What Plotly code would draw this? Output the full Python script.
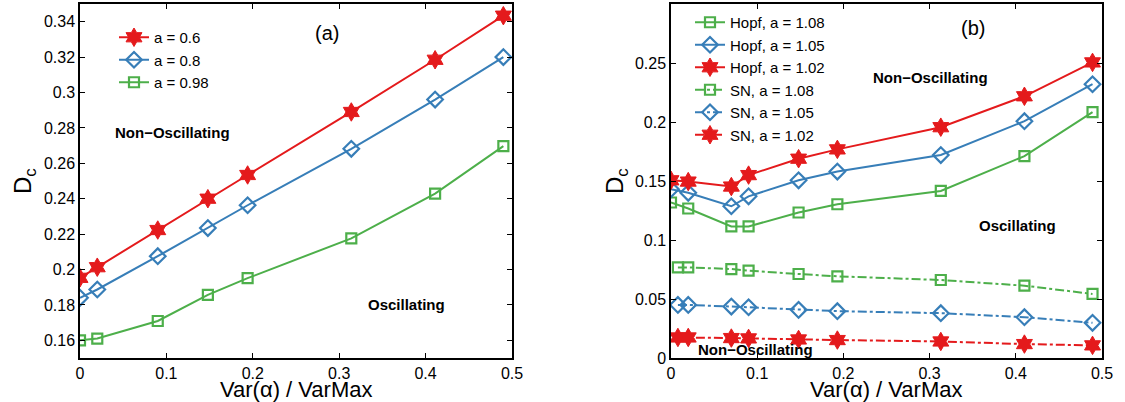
import plotly.graph_objects as go

# ---------------- data ----------------
x_a = [0.0, 0.02, 0.09, 0.148, 0.194, 0.314, 0.411, 0.49]
a06 = [0.1953, 0.2013, 0.2223, 0.2400, 0.2534, 0.2890, 0.3185, 0.3434]
a08 = [0.1840, 0.1887, 0.2075, 0.2234, 0.2363, 0.2682, 0.2960, 0.3200]
a098 = [0.1600, 0.1610, 0.1709, 0.1857, 0.1951, 0.2176, 0.2429, 0.2697]

x_hopf = [0.0, 0.02, 0.07, 0.09, 0.148, 0.193, 0.313, 0.41, 0.489]
x_sn = [0.008, 0.02, 0.07, 0.09, 0.148, 0.193, 0.313, 0.41, 0.489]
hopf108 = [0.1318, 0.1267, 0.1115, 0.1115, 0.1233, 0.1303, 0.1416, 0.1711, 0.2083]
hopf105 = [0.1430, 0.1400, 0.1286, 0.1370, 0.1506, 0.1580, 0.1720, 0.2007, 0.2320]
hopf102 = [0.1506, 0.1495, 0.1453, 0.1550, 0.1689, 0.1768, 0.1956, 0.2218, 0.2505]
sn108 = [0.0768, 0.0768, 0.0754, 0.0740, 0.0712, 0.0692, 0.0661, 0.0613, 0.0543]
sn105 = [0.0450, 0.0450, 0.0436, 0.0430, 0.0408, 0.0397, 0.0380, 0.0346, 0.0298]
sn102 = [0.0174, 0.0174, 0.0169, 0.0166, 0.0157, 0.0152, 0.0140, 0.0118, 0.0107]

xticks = [0, 0.1, 0.2, 0.3, 0.4, 0.5]
xtick_text = ["0", "0.1", "0.2", "0.3", "0.4", "0.5"]
yticks_a = [0.16, 0.18, 0.20, 0.22, 0.24, 0.26, 0.28, 0.30, 0.32, 0.34]
ytick_text_a = ["0.16", "0.18", "0.2", "0.22", "0.24", "0.26", "0.28", "0.3", "0.32", "0.34"]
yticks_b = [0, 0.05, 0.1, 0.15, 0.2, 0.25]
ytick_text_b = ["0", "0.05", "0.1", "0.15", "0.2", "0.25"]

RED = "#e41a1c"
BLUE = "#377eb8"
GREEN = "#4daf4a"
FONT = "Liberation Sans, Arial, Helvetica, sans-serif"
W, H = 1125, 402

fig = go.Figure()

def add(x, y, name, color, symbol, size, dash, xa, ya, legend):
    filled = symbol == "hexagram"
    fig.add_trace(go.Scatter(
        x=x, y=y, name=name, mode="lines+markers",
        line=dict(color=color, width=2, dash=dash),
        marker=dict(symbol=symbol, size=size, color=color,
                    line=dict(color=color, width=1 if filled else 2.2)),
        xaxis=xa, yaxis=ya, legend=legend))

# panel (a)
add(x_a, a06, "a = 0.6", RED, "hexagram", 14, "solid", "x", "y", "legend")
add(x_a, a08, "a = 0.8", BLUE, "diamond-open", 12, "solid", "x", "y", "legend")
add(x_a, a098, "a = 0.98", GREEN, "square-open", 10, "solid", "x", "y", "legend")

# panel (b)
add(x_hopf, hopf108, "Hopf, a = 1.08", GREEN, "square-open", 10, "solid", "x2", "y2", "legend2")
add(x_hopf, hopf105, "Hopf, a = 1.05", BLUE, "diamond-open", 12, "solid", "x2", "y2", "legend2")
add(x_hopf, hopf102, "Hopf, a = 1.02", RED, "hexagram", 14, "solid", "x2", "y2", "legend2")
add(x_sn, sn108, "SN, a = 1.08", GREEN, "square-open", 10, "dashdot", "x2", "y2", "legend2")
add(x_sn, sn105, "SN, a = 1.05", BLUE, "diamond-open", 12, "dashdot", "x2", "y2", "legend2")
add(x_sn, sn102, "SN, a = 1.02", RED, "hexagram", 14, "dashdot", "x2", "y2", "legend2")

axis_common = dict(showline=True, linecolor="black", linewidth=1.5, mirror="allticks",
                   ticks="inside", ticklen=5, tickwidth=1, tickcolor="black",
                   showgrid=False, zeroline=False, automargin=False,
                   tickfont=dict(family=FONT, size=16, color="black"))

dom_y = [44 / H, 398 / H]
fig.update_layout(
    width=W, height=H,
    margin=dict(l=0, r=0, t=0, b=0),
    paper_bgcolor="white", plot_bgcolor="white",
    font=dict(family=FONT, color="black"),
    xaxis=dict(domain=[80 / W, 512 / W], range=[0, 0.5], tickvals=xticks, ticktext=xtick_text,
               anchor="y", **axis_common),
    yaxis=dict(domain=dom_y, range=[0.15, 0.35], tickvals=yticks_a, ticktext=ytick_text_a,
               anchor="x", **axis_common),
    xaxis2=dict(domain=[671 / W, 1102 / W], range=[0, 0.5], tickvals=xticks, ticktext=xtick_text,
                anchor="y2", **axis_common),
    yaxis2=dict(domain=dom_y, range=[0, 0.3], tickvals=yticks_b, ticktext=ytick_text_b,
                anchor="x2", **axis_common),
    legend=dict(x=114 / W, y=1 - 21 / H, xanchor="left", yanchor="top",
                bgcolor="rgba(0,0,0,0)", itemwidth=30, tracegroupgap=0,
                font=dict(family=FONT, size=15, color="black")),
    legend2=dict(x=690 / W, y=1 - 6 / H, xanchor="left", yanchor="top",
                 bgcolor="rgba(0,0,0,0)", itemwidth=30, tracegroupgap=0,
                 font=dict(family=FONT, size=15, color="black")),
)

def note(text, x, y, xr, yr, size, bold, angle=0):
    t = "<b>%s</b>" % text if bold else text
    fig.add_annotation(text=t, x=x, y=y, xref=xr, yref=yr, showarrow=False,
                       textangle=angle, xanchor="center", yanchor="middle",
                       font=dict(family=FONT, size=size, color="black"))

note("(a)", 0.2855, 0.3336, "x", "y", 20, False)
note("Non−Oscillating", 0.1076, 0.2772, "x", "y", 15, True)
note("Oscillating", 0.378, 0.18, "x", "y", 15, True)
note("(b)", 0.3506, 0.2796, "x2", "y2", 20, False)
note("Non−Oscillating", 0.3007, 0.2373, "x2", "y2", 15, True)
note("Oscillating", 0.4022, 0.1126, "x2", "y2", 15, True)
note("Non−Oscillating", 0.0975, 0.0073, "x2", "y2", 15, True)

# axis titles
note("Var(α) / VarMax", 296 / W, 1 - 389 / H, "paper", "paper", 22, False)
note("Var(α) / VarMax", 886 / W, 1 - 389 / H, "paper", "paper", 22, False)
note("D<sub>c</sub>", 24 / W, 1 - 181 / H, "paper", "paper", 24, False, -90)
note("D<sub>c</sub>", 616 / W, 1 - 181 / H, "paper", "paper", 24, False, -90)

fig.write_html("out.html", config={"displayModeBar": False},
               post_script="document.body.style.margin='0px';")
